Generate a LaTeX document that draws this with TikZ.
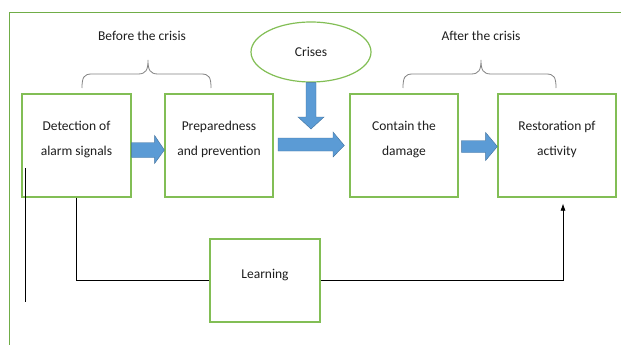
\documentclass[tikz,border=0pt]{standalone}
\usepackage{fontspec}
\setmainfont{Carlito}
\usetikzlibrary{calc,shapes.geometric,arrows.meta}
\definecolor{boxgreen}{RGB}{130,190,85}
\definecolor{framegreen}{RGB}{112,173,71}
\definecolor{arrowblue}{RGB}{91,155,213}
\definecolor{arrowedge}{RGB}{65,113,156}
\definecolor{txt}{RGB}{30,30,30}
\definecolor{bracegrey}{RGB}{130,130,130}
\begin{document}
\begin{tikzpicture}[x=1pt,y=-1pt,
  every node/.style={text=txt,font=\fontsize{13.5}{25}\selectfont},
  box/.style={draw=boxgreen,line width=1.2pt,fill=white,align=center,inner sep=0pt},
  boxtext/.style={align=center,yshift=6pt},
  conn/.style={draw=black,line width=0.7pt},
  bracepath/.style={draw=bracegrey,line width=0.8pt},
  blockarrow/.style={fill=arrowblue,draw=arrowedge,line width=0.4pt,line join=miter}]
\useasboundingbox (0,0) rectangle (621,345);
% frame
\draw[framegreen,line width=1pt] (9,345) -- (9,13) -- (621,13);
% nodes
\node[box,minimum width=109,minimum height=103,label={[boxtext]center:Detection of\\alarm signals}] (det) at (76.5,145.5) {};
\node[box,minimum width=108,minimum height=103,label={[boxtext]center:Preparedness\\and prevention}] (prep) at (219,145.5) {};
\node[box,minimum width=108,minimum height=103,label={[boxtext]center:Contain the\\damage}] (cont) at (404,145.5) {};
\node[box,minimum width=118,minimum height=103,label={[boxtext]center:Restoration pf\\activity}] (rest) at (557,145.5) {};
\node[box,minimum width=110,minimum height=83,label={[boxtext,yshift=-1pt]center:Learning}] (learn) at (265,280.5) {};
\node[draw=boxgreen,line width=1.2pt,ellipse,minimum width=120,minimum height=60] (crisis) at (311,52) {Crises};
% labels
\node (before) at (142,36) {Before the crisis};
\node (after) at (481,36) {After the crisis};
% braces
\draw[bracepath] (82,88) .. controls (82,77) and (84,74) .. (92,74) -- (138,74)
  .. controls (146,74) and (148,70) .. (148,60) .. controls (148,70) and (150,74) .. (158,74)
  -- (201,74) .. controls (209,74) and (211,77) .. (211,88);
\draw[bracepath] (403,88) .. controls (403,77) and (405,74) .. (413,74) -- (471,74)
  .. controls (479,74) and (481,70) .. (481,60) .. controls (481,70) and (483,74) .. (491,74)
  -- (546,74) .. controls (554,74) and (556,77) .. (556,88);
% block arrows
% det -> prep
\draw[blockarrow] ($(det.east)+(0,-3)$) -- ++(23,0) -- ++(0,-7) -- ($(prep.west)+(0,4.5)$) -- ($(det.east)+(23,18)$) -- ++(0,-6) -- ($(det.east)+(0,12)$) -- cycle;
% long arrow into contain
\draw[blockarrow] (278,138) -- (333,138) -- (333,132) -- ($(cont.west)+(-5,0)$) -- (333,157) -- (333,151) -- (278,151) -- cycle;
% crises down
\draw[blockarrow] ($(crisis.south)+(-5,0)$) -- (306,117) -- (298,117) -- (311,129) -- (324,117) -- (316,117) -- ($(crisis.south)+(5,0)$) -- cycle;
% cont -> rest
\draw[blockarrow] ($(cont.east)+(3,-5)$) -- ++(24,0) -- ++(0,-8) -- ($(rest.west)+(0,1)$) -- ($(cont.east)+(27,15)$) -- ++(0,-8) -- ($(cont.east)+(3,7)$) -- cycle;
% learning connectors
\coordinate (rs) at ($(rest.south)+(6,6)$);
\draw[conn] (det.south) -- (det.south |- learn.west) -- (learn.west);
\draw[conn,-{Latex[length=7pt,width=5pt]}] (learn.east) -| (rs);
% stray vertical line
\coordinate (v1) at (25,168);
\coordinate (v2) at (25,302);
\draw[black,line width=1pt] (v1) -- (v2);
\end{tikzpicture}
\end{document}
